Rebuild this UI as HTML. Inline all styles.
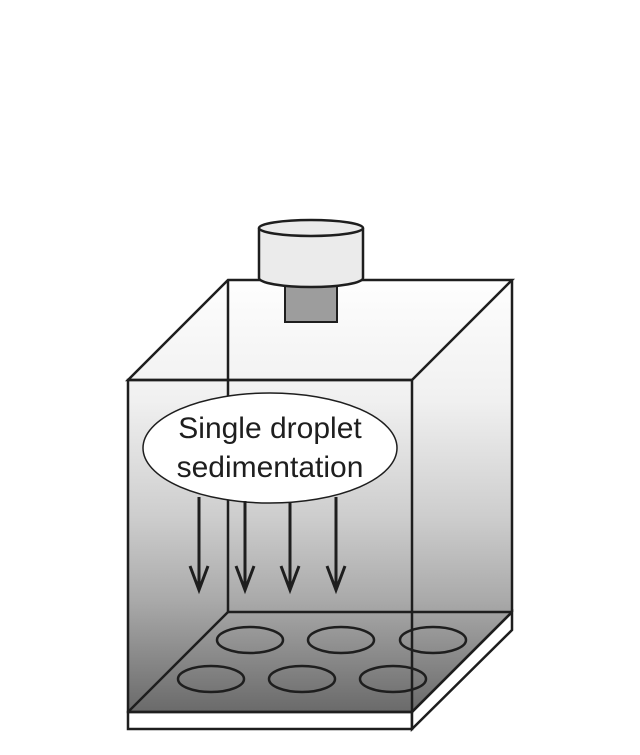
<!DOCTYPE html>
<html><head><style>html,body{margin:0;padding:0;background:#fff}</style></head>
<body>
<svg width="640" height="750" viewBox="0 0 640 750" xmlns="http://www.w3.org/2000/svg">
<defs>
<linearGradient id="g" x1="0" y1="280" x2="0" y2="712" gradientUnits="userSpaceOnUse">
<stop offset="0" stop-color="#fefefe"/>
<stop offset="0.28" stop-color="#f0f0f0"/>
<stop offset="0.55" stop-color="#cdcdcd"/>
<stop offset="0.74" stop-color="#aaaaaa"/>
<stop offset="1" stop-color="#6a6a6a"/>
</linearGradient>
</defs>
<g stroke="#1e1e1e" stroke-width="2.5" fill="none" stroke-linejoin="miter">
<polygon points="128,380 228,280 512,280 512,612 412,712 128,712" fill="url(#g)" stroke="none"/>
<!-- plate thickness -->
<polygon points="128,712 412,712 412,729 128,729" fill="#fff"/>
<polygon points="412,712 512,612 512,630 412,729" fill="#fff"/>
<!-- back edges -->
<line x1="228" y1="280" x2="228" y2="612"/>
<line x1="228" y1="612" x2="512" y2="612"/>
<line x1="228" y1="612" x2="128" y2="712"/>
<!-- wells -->
<ellipse cx="250" cy="640" rx="33" ry="13"/>
<ellipse cx="341" cy="640" rx="33" ry="13"/>
<ellipse cx="433" cy="640" rx="33" ry="13"/>
<ellipse cx="211" cy="679" rx="33" ry="13"/>
<ellipse cx="302" cy="679" rx="33" ry="13"/>
<ellipse cx="393" cy="679" rx="33" ry="13"/>
<!-- box outline -->
<polygon points="128,380 228,280 512,280 412,380"/>
<rect x="128" y="380" width="284" height="332"/>
<line x1="512" y1="280" x2="512" y2="612"/>
<line x1="512" y1="612" x2="412" y2="712"/>
<!-- gray block -->
<rect x="285" y="282" width="52" height="40" fill="#9d9d9d" stroke-width="2"/>
<!-- cylinder -->
<path d="M259,228 L259,278 A52,9 0 0 0 363,278 L363,228" fill="#ebebeb"/>
<ellipse cx="311" cy="228" rx="52" ry="8" fill="#ebebeb"/>
<!-- label ellipse -->
<ellipse cx="270" cy="448" rx="127" ry="55" fill="#fff" stroke-width="1.5"/>
<!-- arrows -->
<g stroke-width="3">
<line x1="199" y1="497" x2="199" y2="590"/><polyline points="190,566 199,590 208,566"/>
<line x1="245" y1="501" x2="245" y2="590"/><polyline points="236,566 245,590 254,566"/>
<line x1="290" y1="503" x2="290" y2="590"/><polyline points="281,566 290,590 299,566"/>
<line x1="336" y1="497" x2="336" y2="590"/><polyline points="327,566 336,590 345,566"/>
</g>
</g>
<text x="270" y="438" text-anchor="middle" font-family="Liberation Sans, sans-serif" font-size="30" fill="#1e1e1e">Single droplet</text>
<text x="270" y="477" text-anchor="middle" font-family="Liberation Sans, sans-serif" font-size="30" fill="#1e1e1e">sedimentation</text>
</svg>
</body></html>
